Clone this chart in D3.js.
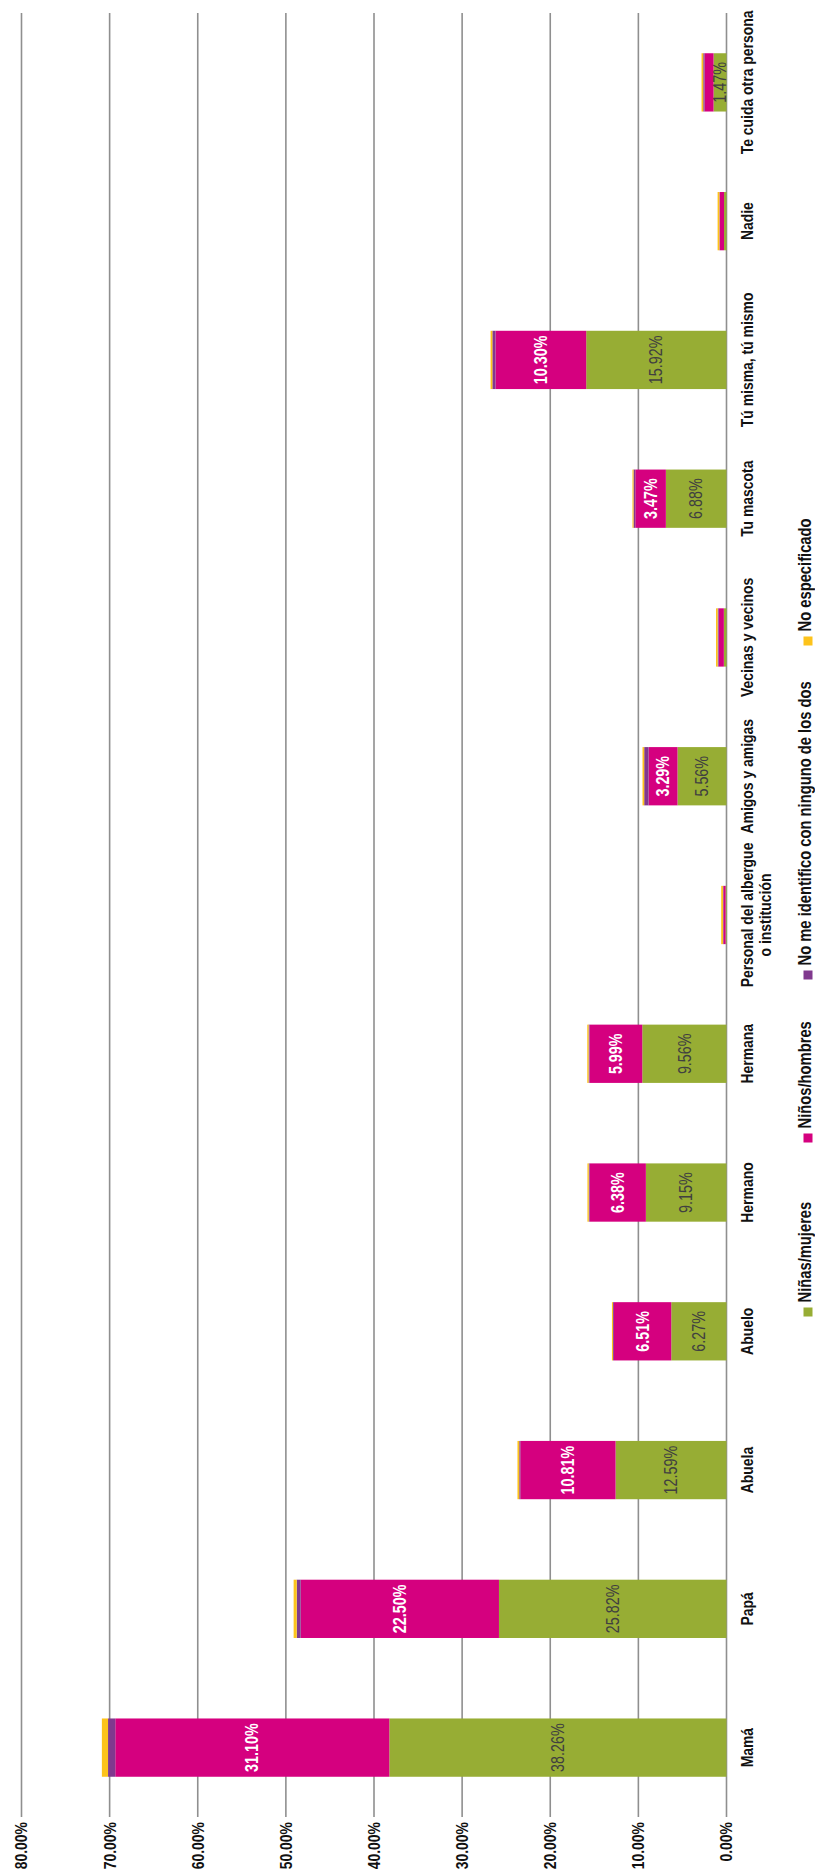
<!DOCTYPE html>
<html><head><meta charset="utf-8">
<script src="https://cdn.jsdelivr.net/npm/d3@7"></script>
<style>
body{margin:0;background:#fff}
text{font-family:"Liberation Sans",Arial,sans-serif}
</style>
</head><body>
<svg id="c" width="815" height="1876"></svg>
<script>
// ---- data ----
const categories = ["Mamá","Papá","Abuela","Abuelo","Hermano","Hermana","Personal del albergue\no institución","Amigos y amigas","Vecinas y vecinos","Tu mascota","Tú misma, tú mismo","Nadie","Te cuida otra persona"];
const seriesNames = ["Niñas/mujeres","Niños/hombres","No me identifico con ninguno de los dos","No especificado"];
const ninasMujeres = [38.26,25.82,12.59,6.27,9.15,9.56,0.10,5.56,0.30,6.88,15.92,0.28,1.47];
const ninosHombres = [31.10,22.50,10.81,6.51,6.38,5.99,0.25,3.29,0.60,3.47,10.30,0.50,1.02];
const noIdentifico = [0.82,0.45,0.12,0.10,0.10,0.10,0.05,0.49,0.10,0.20,0.35,0.03,0.15];
const noEspecificado = [0.70,0.35,0.20,0.12,0.15,0.15,0.20,0.19,0.19,0.12,0.20,0.20,0.19];
const tickValues = [0,10,20,30,40,50,60,70,80];
const colors = ["#97ad34","#d5007f","#80398e","#fdc31b"];

// ---- build ----
const NARROW = "scale(0.82,1)";
const seriesArrays = [ninasMujeres, ninosHombres, noIdentifico, noEspecificado];
const rows = categories.map((c,i)=>{
  const r = {cat:c};
  seriesNames.forEach((s,j)=>r[s]=seriesArrays[j][i]);
  return r;
});
const stack = d3.stack().keys(seriesNames)(rows);

const svg = d3.select("#c");
const x = d3.scaleLinear().domain([0,80]).range([726.5,21.5]);
const y = d3.scaleBand().domain(categories.slice().reverse()).range([13,1817]).paddingInner(0.58).paddingOuter(0.29);
const bw = y.bandwidth();

// gridlines
svg.append("g").selectAll("line").data(tickValues).join("line")
  .attr("x1",d=>x(d)).attr("x2",d=>x(d)).attr("y1",13).attr("y2",1817)
  .attr("stroke","#8f8f8f").attr("stroke-width",1.6);

// tick labels
svg.append("g").selectAll("text").data(tickValues).join("text")
  .attr("transform",d=>`translate(${x(d)},1822) rotate(-90) ${NARROW}`)
  .attr("dy","0.35em").attr("text-anchor","end")
  .attr("font-size",17).attr("font-weight","bold").attr("fill","#111")
  .text(d=>d.toFixed(2)+"%");

// bars
const gBars = svg.append("g");
stack.forEach((s,j)=>{
  gBars.append("g").attr("fill",colors[j]).selectAll("rect").data(s).join("rect")
    .attr("x",d=>x(d[1])).attr("width",d=>x(d[0])-x(d[1]))
    .attr("y",d=>y(d.data.cat)).attr("height",bw);
});

// data labels
const labelColors = ["#404040","#fff"];
const labelWeights = ["normal","bold"];
[0,1].forEach(j=>{
  svg.append("g").selectAll("text").data(stack[j].filter(d=>d[1]-d[0]>=1.4)).join("text")
    .attr("transform",d=>`translate(${x((d[0]+d[1])/2)},${y(d.data.cat)+bw/2}) rotate(-90) ${NARROW}`)
    .attr("dy","0.35em").attr("text-anchor","middle")
    .attr("font-size",17.5).attr("font-weight",labelWeights[j]).attr("fill",labelColors[j])
    .text(d=>(d[1]-d[0]).toFixed(2)+"%");
});

// category labels
const gCat = svg.append("g");
categories.forEach(c=>{
  const t = gCat.append("text")
    .attr("transform",`translate(747,${y(c)+bw/2}) rotate(-90) ${NARROW}`)
    .attr("text-anchor","middle").attr("font-size",17).attr("font-weight","bold").attr("fill","#111");
  c.split("\n").forEach((line,k)=>{
    t.append("tspan").attr("x",0).attr("y",0).attr("dy",(0.35+k*1.05)+"em").text(line);
  });
});

// legend
const legendY = [1312,1138,975,641];
const gLeg = svg.append("g");
seriesNames.forEach((s,j)=>{
  gLeg.append("rect").attr("x",803.5).attr("y",legendY[j]-4.5).attr("width",9).attr("height",9).attr("fill",colors[j]);
  gLeg.append("text")
    .attr("transform",`translate(805,${legendY[j]-9.5}) rotate(-90) ${NARROW}`)
    .attr("dy","0.35em").attr("text-anchor","start")
    .attr("font-size",18).attr("font-weight","bold").attr("fill","#111")
    .text(s);
});
</script>
</body></html>
